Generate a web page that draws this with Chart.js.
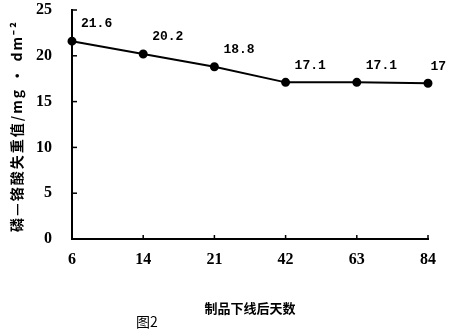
<!DOCTYPE html>
<html>
<head>
<meta charset="utf-8">
<script src="https://cdn.jsdelivr.net/npm/chart.js@4.4.0/dist/chart.umd.min.js"></script>
<style>
  body { margin: 0; background: #fff; }
  #wrap { width: 449px; height: 334px; position: relative; }
</style>
</head>
<body>
<div id="wrap"><canvas id="chart" width="449" height="334"></canvas></div>
<script>
const days = ["6", "14", "21", "42", "63", "84"];
const weightLoss = [21.6, 20.2, 18.8, 17.1, 17.1, 17];
const pointLabels = ["21.6", "20.2", "18.8", "17.1", "17.1", "17"];
const yTicks = [0, 5, 10, 15, 20, 25];

const yTitle = "磷—铬酸失重值/mg · dm⁻²";
const xTitle = "制品下线后天数";
const caption = "图2";

// inward ticks, point labels and the titles
const extras = {
  id: "extras",
  afterDraw(chart) {
    const c = chart.ctx;
    const x = chart.scales.x, y = chart.scales.y;
    const area = chart.chartArea;
    c.save();
    c.strokeStyle = "#000";
    c.lineWidth = 1.5;
    yTicks.forEach(v => {
      if (v === 0) return;
      const py = y.getPixelForValue(v);
      c.beginPath();
      c.moveTo(area.left, py);
      c.lineTo(area.left + 5, py);
      c.stroke();
    });
    days.forEach((d, i) => {
      if (i === 0) return;
      const px = x.getPixelForValue(i);
      c.beginPath();
      c.moveTo(px, area.bottom);
      c.lineTo(px, area.bottom - 4);
      c.stroke();
    });

    c.fillStyle = "#000";
    c.font = "bold 13px 'Liberation Mono', monospace";
    c.textBaseline = "middle";
    c.textAlign = "left";
    pointLabels.forEach((t, i) => {
      const px = x.getPixelForValue(i);
      const py = y.getPixelForValue(weightLoss[i]);
      const w = c.measureText(t).width;
      c.fillText(t, Math.min(px + 9, chart.width - w - 3), py - 17);
    });

    c.font = "bold 13px 'Noto Sans CJK SC', sans-serif";
    c.textAlign = "center";
    c.fillText(xTitle, 250, 308);
    c.font = "14px 'Noto Sans CJK SC', sans-serif";
    c.fillText(caption, 147, 322);

    c.save();
    c.translate(17, 126);
    c.rotate(-Math.PI / 2);
    c.font = "bold 14px 'Noto Sans CJK SC', sans-serif";
    c.letterSpacing = "2px";
    c.fillText(yTitle, 0, 0);
    c.restore();
    c.restore();
  }
};

new Chart(document.getElementById("chart").getContext("2d"), {
  type: "line",
  data: {
    labels: days,
    datasets: [{
      data: weightLoss,
      borderColor: "#000",
      backgroundColor: "#000",
      borderWidth: 2,
      pointRadius: 3.5,
      pointBackgroundColor: "#000",
      tension: 0
    }]
  },
  options: {
    responsive: false,
    animation: false,
    layout: { autoPadding: false, padding: { left: 0, right: 21, top: 10, bottom: 0 } },
    plugins: { legend: { display: false }, tooltip: { enabled: false } },
    scales: {
      x: {
        offset: false,
        grid: { display: false },
        border: { color: "#000", width: 2 },
        ticks: {
          color: "#000",
          padding: 3,
          font: { family: "'Liberation Serif', serif", size: 16, weight: "bold" }
        },
        afterFit(s) { s.height = 95; }
      },
      y: {
        min: 0,
        max: 25,
        grid: { display: false },
        border: { color: "#000", width: 2 },
        ticks: {
          stepSize: 5,
          color: "#000",
          padding: 12,
          font: { family: "'Liberation Serif', serif", size: 16, weight: "bold" }
        },
        afterFit(s) { s.width = 72; s.paddingTop = 0; }
      }
    }
  },
  plugins: [extras]
});
</script>
</body>
</html>
